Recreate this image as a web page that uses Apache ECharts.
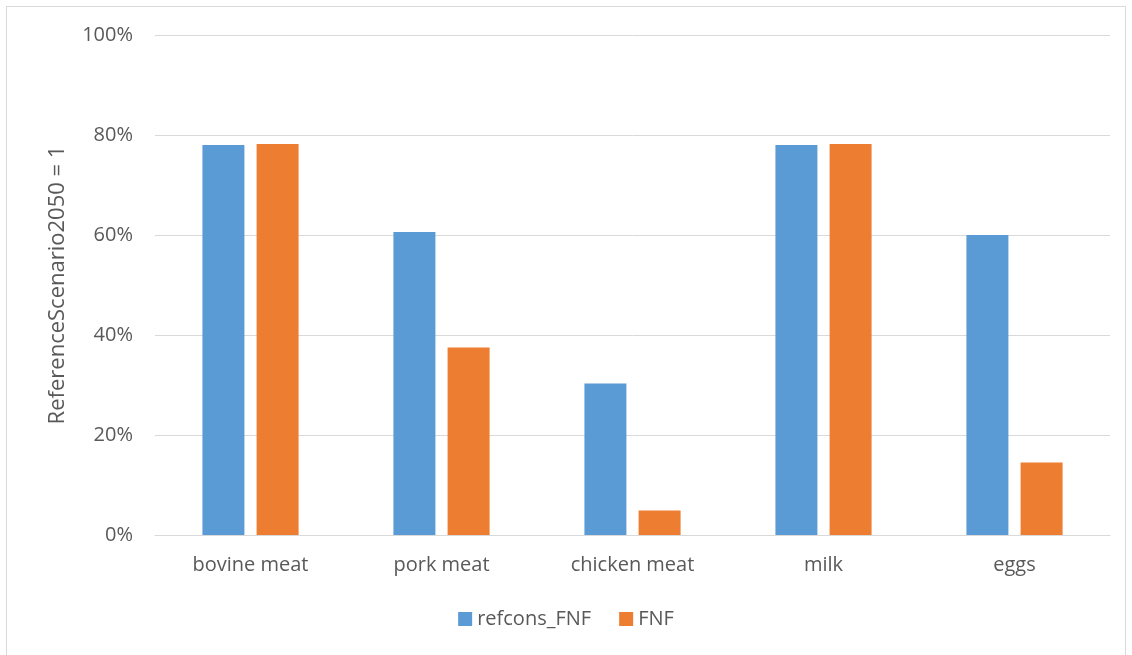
<!DOCTYPE html>
<html><head><meta charset="utf-8">
<script src="https://cdn.jsdelivr.net/npm/echarts@6/dist/echarts.min.js"></script>
<style>
html,body{margin:0;padding:0;background:#fff;}
#frame{position:absolute;left:6px;top:6px;width:1120px;height:660px;border:1px solid #d9d9d9;box-sizing:border-box;}
#c{position:absolute;left:0;top:0;width:1132px;height:655px;}
</style></head>
<body>
<div id="frame"></div>
<div id="c"></div>
<script>
const categories = ['bovine meat', 'pork meat', 'chicken meat', 'milk', 'eggs'];
const refconsFNF = [78.0, 60.6, 30.3, 78.0, 60.0];
const FNF = [78.2, 37.5, 4.9, 78.2, 14.5];
const seriesNames = ['refcons_FNF', 'FNF'];
const yAxisTitle = 'ReferenceScenario2050 = 1';

const font = '"Open Sans", "Noto Sans", sans-serif';
const chart = echarts.init(document.getElementById('c'), null, {renderer: 'canvas'});
chart.setOption({
  animation: false,
  textStyle: {fontFamily: font},
  grid: {left: 155, right: 22, top: 35, bottom: 120, containLabel: false},
  legend: {
    data: seriesNames, bottom: 21, left: 'center', itemWidth: 14, itemHeight: 14, itemGap: 28,
    icon: 'rect',
    textStyle: {color: '#595959', fontSize: 20, fontFamily: font}
  },
  xAxis: {
    type: 'category', data: categories,
    axisLine: {lineStyle: {color: '#d9d9d9', width: 1}},
    axisTick: {show: false},
    axisLabel: {color: '#595959', fontSize: 20, margin: 20, fontFamily: font}
  },
  yAxis: {
    type: 'value', min: 0, max: 100, interval: 20,
    name: yAxisTitle, nameLocation: 'middle', nameGap: 86, nameRotate: 90,
    nameTextStyle: {color: '#595959', fontSize: 22, fontFamily: font},
    axisLine: {show: false}, axisTick: {show: false},
    axisLabel: {color: '#595959', fontSize: 20, margin: 22, formatter: v => v + '%', fontFamily: font},
    splitLine: {lineStyle: {color: '#d9d9d9', width: 1}}
  },
  series: [
    {name: seriesNames[0], type: 'bar', data: refconsFNF, barWidth: 42, barGap: '29%',
     itemStyle: {color: '#5b9bd5'}},
    {name: seriesNames[1], type: 'bar', data: FNF, barWidth: 42,
     itemStyle: {color: '#ed7d31'}}
  ]
});
</script>
</body></html>
